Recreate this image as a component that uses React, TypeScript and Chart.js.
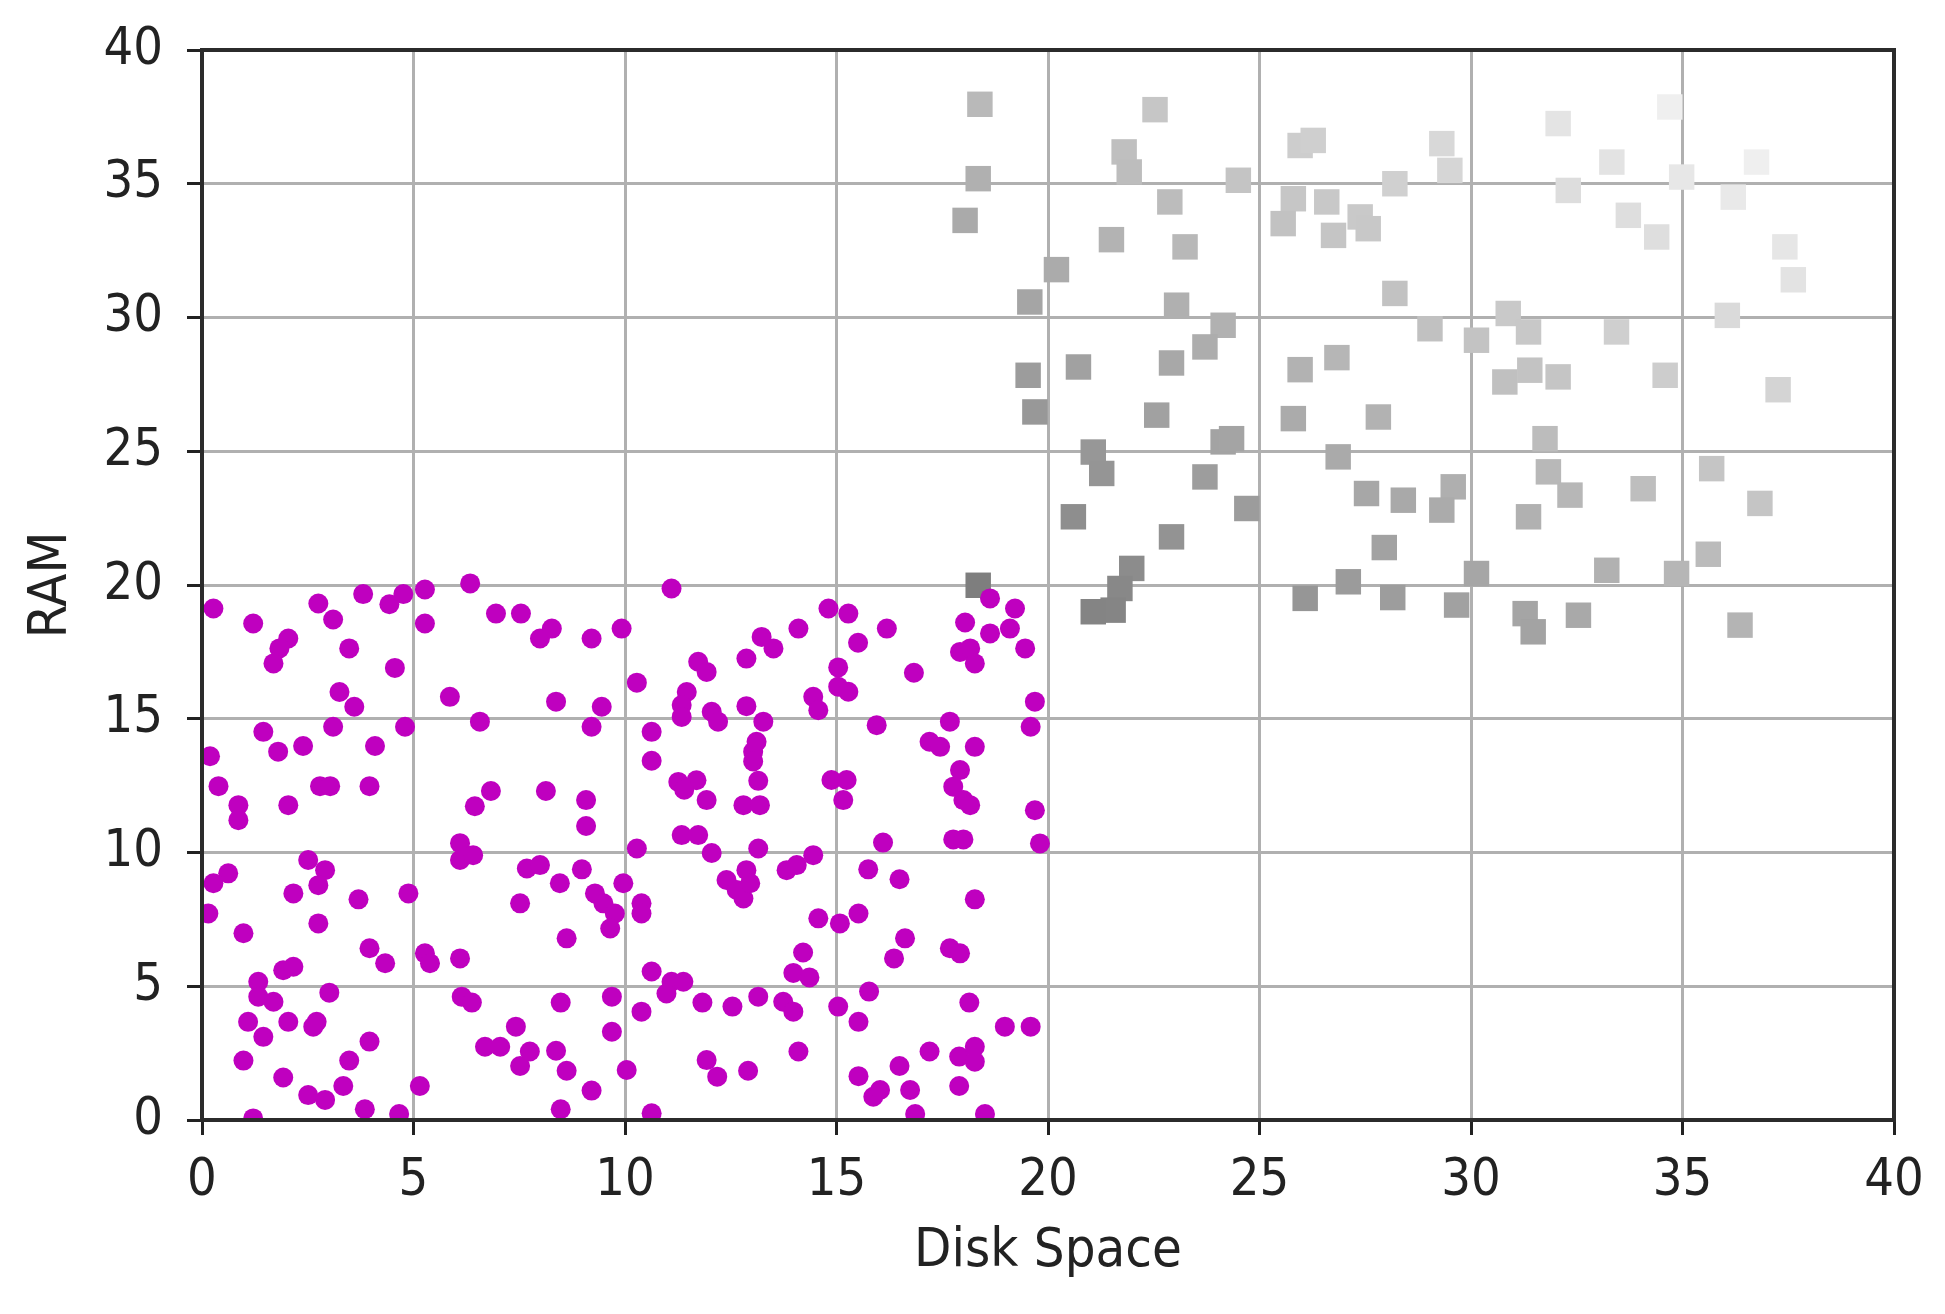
import React, { useEffect, useRef } from "react";
import { Chart, registerables } from "chart.js";

Chart.register(...registerables);

// Tick labels
const xTickValues = [0, 5, 10, 15, 20, 25, 30, 35, 40];
const yTickValues = [0, 5, 10, 15, 20, 25, 30, 35, 40];
const xAxisTitle = "Disk Space";
const yAxisTitle = "RAM";

// Magenta circles (Disk Space, RAM)
const magentaDisk = [
  0.27, 1.21, 2.04, 1.83, 1.69, 2.75, 3.1, 3.48, 3.81, 4.43, 4.76, 5.27, 5.27, 4.56, 6.34, 6.95, 7.54, 7.99, 8.27, 9.21,
  9.92, 3.25, 3.6, 5.86, 8.37, 9.45, 6.57, 9.21, 1.45, 3.1, 4.8, 0.19, 1.8, 2.39, 4.09, 0.39, 0.86, 0.86, 2.04, 2.79,
  3.03, 3.96, 6.83, 6.45, 8.13, 9.08, 9.08, 6.1, 11.1, 14.81, 15.28, 14.1, 13.23, 13.51, 15.51, 16.19, 18.04, 18.63, 19.22, 18.63,
  19.1, 19.46, 17.92, 18.16, 18.27, 16.83, 11.73, 11.93, 12.87, 10.28, 11.46, 11.34, 11.34, 12.05, 12.2, 12.87, 13.27, 13.11, 13.03, 13.03,
  13.15, 14.45, 14.57, 15.04, 15.04, 15.28, 15.95, 17.68, 17.2, 17.45, 18.27, 19.69, 19.59, 17.92, 17.76, 18.0, 18.16, 19.69, 10.63, 10.63,
  11.26, 11.69, 11.4, 11.93, 12.8, 13.19, 14.88, 15.24, 15.16, 16.1, 17.76, 18.0, 19.81, 10.28, 11.34, 11.73, 12.05, 13.15, 6.1, 6.41,
  2.51, 2.91, 2.75, 0.62, 0.27, 0.15, 2.16, 3.7, 4.88, 2.75, 0.98, 3.96, 4.33, 5.27, 5.39, 6.1, 7.68, 7.99, 8.98, 8.46,
  9.29, 9.49, 9.76, 9.65, 9.96, 7.52, 8.62, 1.92, 2.16, 1.33, 1.33, 1.69, 3.01, 1.09, 2.04, 2.71, 2.63, 1.45, 3.96, 0.98,
  1.92, 3.48, 3.34, 2.51, 2.91, 1.21, 3.85, 4.66, 5.15, 6.14, 6.38, 8.48, 9.69, 9.69, 7.42, 6.69, 7.05, 7.75, 7.52, 8.37,
  8.62, 9.21, 8.48, 10.04, 13.82, 14.06, 14.45, 10.39, 10.39, 12.4, 12.64, 12.8, 12.87, 12.96, 15.75, 16.49, 18.27, 14.57, 15.08, 15.52,
  16.62, 16.36, 17.68, 17.92, 14.21, 13.98, 14.36, 10.63, 11.1, 11.38, 10.98, 10.39, 11.83, 12.54, 13.15, 13.74, 13.98, 15.04, 15.77, 15.52,
  18.14, 18.98, 19.59, 14.1, 11.93, 12.18, 12.91, 10.63, 15.52, 15.87, 16.03, 16.49, 16.74, 16.86, 17.2, 17.9, 18.27, 18.27, 17.9, 18.51,
];
const magentaRam = [
  19.12, 18.56, 18.0, 17.63, 17.07, 19.31, 18.71, 17.63, 19.66, 19.28, 19.66, 19.83, 18.56, 16.9, 20.06, 18.93, 18.93, 18.0, 18.37, 18.0,
  18.37, 16.0, 15.45, 15.82, 15.64, 15.45, 14.89, 14.7, 14.51, 14.7, 14.7, 13.6, 13.77, 13.98, 13.98, 12.48, 11.77, 11.21, 11.77, 12.48,
  12.48, 12.48, 12.3, 11.73, 12.3, 11.96, 10.99, 10.35, 19.87, 19.12, 18.93, 18.37, 18.06, 17.63, 17.84, 18.37, 18.6, 19.5, 19.12, 18.19,
  18.37, 17.63, 17.5, 17.63, 17.07, 16.72, 17.13, 16.75, 17.25, 16.35, 16.0, 15.51, 15.07, 15.26, 14.89, 15.47, 14.89, 14.14, 13.77, 13.4,
  12.68, 15.82, 15.32, 16.92, 16.2, 16.01, 14.76, 14.89, 14.14, 13.95, 13.95, 15.64, 14.7, 13.08, 12.46, 11.96, 11.77, 11.58, 14.51, 13.43,
  12.64, 12.7, 12.35, 11.96, 11.77, 11.77, 12.71, 12.71, 11.96, 10.37, 10.49, 10.49, 10.34, 10.15, 10.65, 10.65, 9.98, 10.15, 9.72, 9.9,
  9.72, 9.34, 8.78, 9.22, 8.85, 7.72, 8.47, 8.25, 8.47, 7.35, 6.98, 6.42, 5.86, 6.23, 5.86, 6.04, 9.4, 9.53, 9.37, 8.85,
  8.47, 8.1, 7.72, 7.16, 8.85, 8.1, 6.79, 5.6, 5.73, 5.17, 4.61, 4.42, 4.76, 3.67, 3.67, 3.67, 3.49, 3.11, 2.93, 2.22,
  1.59, 2.22, 1.27, 0.93, 0.75, 0.06, 0.4, 0.22, 1.27, 4.61, 4.39, 4.39, 4.61, 3.3, 3.49, 2.74, 2.74, 2.56, 2.02, 2.59,
  1.84, 1.1, 0.4, 1.87, 9.34, 9.53, 9.9, 8.1, 7.72, 8.97, 8.6, 8.28, 9.34, 8.85, 9.37, 9.0, 8.25, 7.54, 7.35, 7.72,
  6.79, 6.04, 6.42, 6.23, 6.26, 5.5, 5.33, 5.55, 5.17, 5.17, 4.73, 4.05, 4.39, 4.24, 4.61, 4.42, 4.05, 4.24, 4.8, 3.67,
  4.39, 3.49, 3.49, 2.56, 2.24, 1.62, 1.84, 0.25, 1.64, 0.87, 1.12, 2.02, 1.12, 0.22, 2.56, 2.37, 2.74, 2.18, 1.27, 0.22,
];

// Gray squares (Disk Space, RAM)
const grayDisk = [
  18.39, 18.35, 18.04, 22.53, 21.8, 21.92, 22.88, 24.5, 21.5, 23.24, 20.2, 19.57, 23.04, 24.14, 23.71, 22.92, 20.72, 19.53, 25.96, 26.27,
  25.8, 25.56, 26.59, 26.75, 27.38, 27.57, 28.2, 28.2, 25.96, 26.83, 29.31, 29.5, 32.06, 33.33, 32.3, 34.7, 34.98, 36.75, 36.2, 33.72,
  34.39, 37.42, 37.62, 29.03, 30.88, 30.13, 31.36, 33.44, 36.06, 19.69, 22.57, 21.07, 21.27, 24.14, 24.34, 23.71, 24.7, 20.6, 22.92, 21.98,
  21.7, 21.54, 21.07, 18.35, 25.8, 26.86, 27.53, 27.81, 27.95, 27.1, 26.08, 28.15, 30.8, 31.39, 32.06, 34.59, 37.26, 31.75, 31.83, 32.34,
  34.07, 35.69, 36.83, 31.36, 28.4, 29.58, 29.31, 30.13, 33.21, 34.86, 35.61, 29.66, 31.28, 31.47, 32.54, 36.36,
];
const grayRam = [
  37.97, 35.19, 33.63, 37.77, 36.19, 35.44, 34.32, 35.13, 32.91, 32.64, 31.79, 30.58, 30.46, 29.71, 28.9, 28.3, 28.15, 27.84, 36.43, 36.62,
  34.44, 33.51, 34.32, 33.07, 33.76, 33.32, 35.0, 30.9, 28.05, 28.5, 36.5, 35.5, 37.25, 35.81, 34.75, 37.87, 35.25, 35.81, 34.5, 33.82,
  33.01, 32.64, 31.41, 29.58, 30.15, 29.15, 29.46, 29.46, 30.08, 26.47, 26.35, 24.97, 24.17, 25.35, 25.47, 24.04, 22.86, 22.55, 21.8, 20.62,
  19.87, 19.06, 19.0, 19.99, 26.22, 24.79, 23.42, 26.28, 21.4, 20.12, 19.5, 19.53, 27.59, 28.03, 27.78, 27.84, 27.3, 25.47, 24.23, 23.36,
  23.6, 24.35, 23.05, 22.55, 23.17, 23.67, 22.8, 20.43, 20.55, 20.43, 21.15, 19.25, 18.93, 18.25, 18.87, 18.5,
];

const FONT = "'DejaVu Sans Condensed', 'DejaVu Sans', sans-serif";

const framePlugin = {
  id: "frameBox",
  afterDraw(chart: any) {
    const { ctx, chartArea } = chart;
    ctx.save();
    ctx.strokeStyle = "#2b2b2b";
    ctx.lineWidth = 4;
    ctx.strokeRect(chartArea.left, chartArea.top, chartArea.right - chartArea.left, chartArea.bottom - chartArea.top);
    ctx.restore();
  },
};

function grayFor(ctx: any) {
  const p = ctx.raw;
  if (!p) return "rgb(160,160,160)";
  let L = 128 + (p.x + p.y - 39) * 3.3;
  L = Math.max(120, Math.min(244, Math.round(L)));
  return `rgb(${L},${L},${L})`;
}

export default function App() {
  const ref = useRef<HTMLCanvasElement | null>(null);
  useEffect(() => {
    if (!ref.current) return;
    const magenta = magentaDisk.map((x, i) => ({ x, y: magentaRam[i] }));
    const gray = grayDisk.map((x, i) => ({ x, y: grayRam[i] }));
    const chart = new Chart(ref.current, {
      type: "scatter",
      data: {
        datasets: [
          {
            label: "high",
            data: gray,
            order: 1,
            pointStyle: "rect",
            pointRadius: 18,
            pointHoverRadius: 18,
            backgroundColor: grayFor,
            borderWidth: 0,
            clip: 0,
          } as any,
          {
            label: "low",
            data: magenta,
            order: 0,
            pointStyle: "circle",
            pointRadius: 10,
            pointHoverRadius: 10,
            backgroundColor: "#bf00bf",
            borderWidth: 0,
            clip: 0,
          } as any,
        ],
      },
      options: {
        animation: false,
        responsive: false,
        devicePixelRatio: 1,
        layout: { padding: { left: 0, right: 43, top: 42, bottom: 0 } },
        plugins: { legend: { display: false }, tooltip: { enabled: false } },
        scales: {
          x: {
            type: "linear",
            min: 0,
            max: 40,
            z: 1,
            afterBuildTicks: (axis: any) => {
              axis.ticks = xTickValues.map((v) => ({ value: v }));
            },
            afterFit: (scale: any) => {
              scale.height = 186;
              scale.paddingLeft = 0;
              scale.paddingRight = 0;
            },
            ticks: {
              padding: 15,
              color: "#222",
              font: { family: FONT, size: 52 },
              maxRotation: 0,
              autoSkip: false,
            },
            grid: { color: "#b0b0b0", lineWidth: 3, tickColor: "#222", tickLength: 15, tickWidth: 3 },
            border: { display: false },
            title: {
              display: true,
              text: xAxisTitle,
              color: "#222",
              font: { family: FONT, size: 54 },
              padding: { top: 0, bottom: 22 },
            },
          },
          y: {
            type: "linear",
            min: 0,
            max: 40,
            z: 1,
            afterBuildTicks: (axis: any) => {
              axis.ticks = yTickValues.map((v) => ({ value: v }));
            },
            afterFit: (scale: any) => {
              scale.width = 194;
              scale.paddingTop = 0;
              scale.paddingBottom = 0;
            },
            ticks: {
              padding: 24,
              color: "#222",
              font: { family: FONT, size: 52 },
              autoSkip: false,
            },
            grid: { color: "#b0b0b0", lineWidth: 3, tickColor: "#222", tickLength: 15, tickWidth: 3 },
            border: { display: false },
            title: {
              display: true,
              text: yAxisTitle,
              color: "#222",
              font: { family: FONT, size: 54 },
              padding: { top: 12, bottom: 0 },
            },
          },
        },
      },
      plugins: [framePlugin],
    });
    return () => chart.destroy();
  }, []);
  return <canvas ref={ref} width={1929} height={1298} style={{ display: "block", width: 1929, height: 1298 }} />;
}
